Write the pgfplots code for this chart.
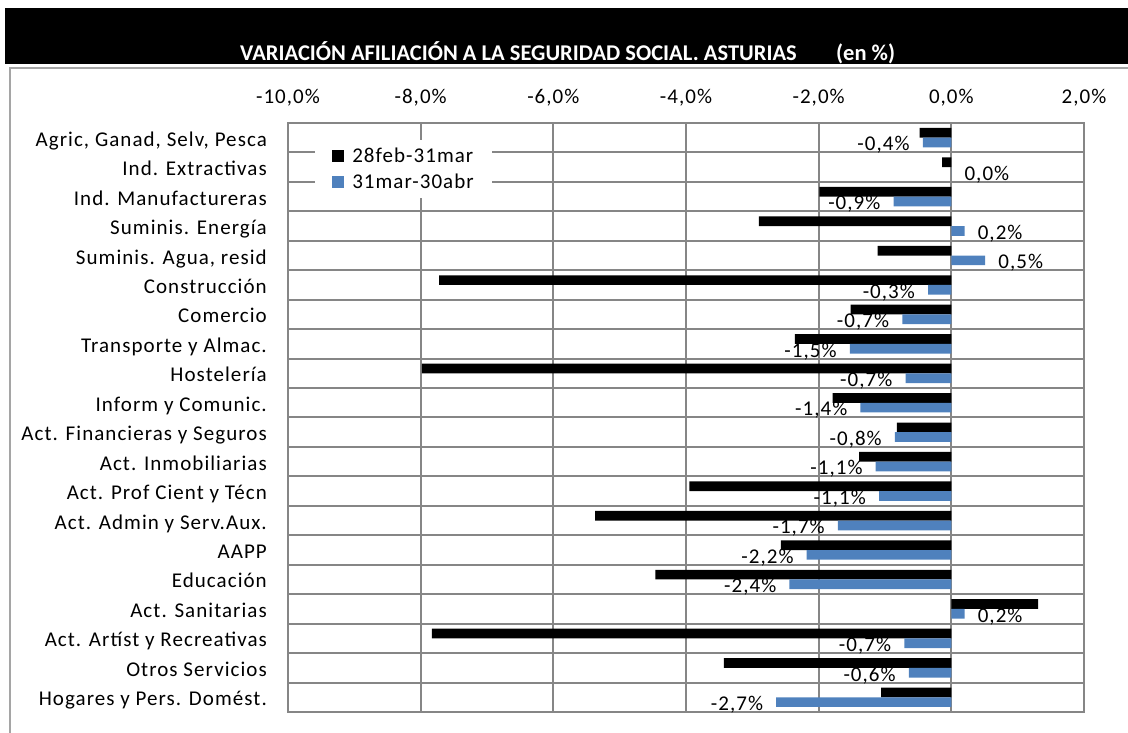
\documentclass[border=0pt]{standalone}
\usepackage{pgfplots}
\pgfplotsset{compat=1.18}
\usepackage{pgfplotstable}
\usepackage{fontspec}
\setmainfont{Carlito}
\newfontfamily\labfont{Carlito}[LetterSpace=5]
\definecolor{gridc}{RGB}{134,134,134}
\definecolor{exblue}{RGB}{79,129,189}
\definecolor{framec}{RGB}{165,165,165}
\newcommand\lf{\labfont\fontsize{21bp}{24bp}\selectfont}
\newcommand\tf{\bfseries\fontsize{22.5bp}{26bp}\selectfont}
\pgfplotsset{sqlegend/.style={legend image code/.code={\fill[##1] (0bp,-6bp) rectangle (12bp,6bp); \path (19bp,0bp);}}}

\pgfplotstableread{
idx black blue
0 -0.48 -0.43
1 -0.14 0.00
2 -1.99 -0.87
3 -2.90 0.20
4 -1.11 0.51
5 -7.72 -0.35
6 -1.52 -0.74
7 -2.36 -1.53
8 -7.98 -0.69
9 -1.79 -1.37
10 -0.82 -0.85
11 -1.39 -1.14
12 -3.95 -1.09
13 -5.37 -1.71
14 -2.57 -2.18
15 -4.46 -2.44
16 1.31 0.20
17 -7.83 -0.71
18 -3.43 -0.64
19 -1.06 -2.64
}\datatable

% labels of the blue series: negative values (set left of the bar end)
\pgfplotstableread{
idx blue lab
0 -0.43 -0,4\%
2 -0.87 -0,9\%
5 -0.35 -0,3\%
6 -0.74 -0,7\%
7 -1.53 -1,5\%
8 -0.69 -0,7\%
9 -1.37 -1,4\%
10 -0.85 -0,8\%
11 -1.14 -1,1\%
12 -1.09 -1,1\%
13 -1.71 -1,7\%
14 -2.18 -2,2\%
15 -2.44 -2,4\%
17 -0.71 -0,7\%
18 -0.64 -0,6\%
19 -2.64 -2,7\%
}\neglabels

% labels of the blue series: zero and positive values (set right of the bar end)
\pgfplotstableread{
idx blue lab
1 0.00 0,0\%
3 0.20 0,2\%
4 0.51 0,5\%
16 0.20 0,2\%
}\poslabels

\begin{document}
\begin{tikzpicture}[x=1bp,y=1bp]
\path[use as bounding box] (0,0) rectangle (1128,733);
\fill[black] (5,669) rectangle (1128,725);
\node[anchor=base west, text=white, inner sep=0pt, font=\tf] at (240,672) {VARIACIÓN AFILIACIÓN A LA SEGURIDAD SOCIAL. ASTURIAS};
\node[anchor=base west, text=white, inner sep=0pt, font=\tf] at (836,672) {(en \%)};
\draw[framec, line width=2bp] (10,0) -- (10,665) -- (1128,665);
\begin{axis}[
  at={(288bp,21bp)}, anchor=south west,
  scale only axis, width=796bp, height=589bp,
  xbar, bar width=0.33,
  sqlegend,
  xmin=-10, xmax=2,
  ymin=-0.5, ymax=19.5,
  y dir=reverse,
  enlargelimits=false,
  clip=false,
  xtick={-10,-8,-6,-4,-2,0,2},
  xticklabels={{-10,0\%},{-8,0\%},{-6,0\%},{-4,0\%},{-2,0\%},{0,0\%},{2,0\%}},
  xticklabel pos=upper,
  xticklabel style={font=\lf, anchor=base, inner sep=0pt, yshift=19bp},
  ytick={0,...,19},
  yticklabels={{Agric, Ganad, Selv, Pesca},{Ind. Extractivas},{Ind. Manufactureras},{Suminis. Energía},{Suminis. Agua, resid},{Construcción},{Comercio},{Transporte y Almac.},{Hostelería},{Inform y Comunic.},{Act. Financieras y Seguros},{Act. Inmobiliarias},{Act. Prof Cient y Técn},{Act. Admin y Serv.Aux.},{AAPP},{Educación},{Act. Sanitarias},{Act. Artíst y Recreativas\ },{Otros Servicios},{Hogares y Pers. Domést.}},
  yticklabel style={font=\lf, anchor=base east, inner sep=0pt, xshift=-21bp, yshift=-8.5bp},
  minor ytick={0.5,1.5,...,18.5},
  yminorgrids, xmajorgrids,
  major tick length=0pt, minor tick length=0pt,
  tick style={draw=none},
  axis line style={gridc, line width=2bp},
  major grid style={gridc, line width=2bp},
  minor grid style={gridc, line width=2bp},
  legend style={at={(0.034,0.971)}, anchor=north west, draw=none, fill=white, font=\lf,
    inner xsep=17bp, inner ysep=7bp, row sep=8bp,
    nodes={inner sep=1bp}},
  legend cell align=left,
]
\addplot[fill=black, draw=none, bar shift=-0.165]
  table[x=black, y=idx] {\datatable};
\addlegendentry{28feb-31mar}
\addplot[fill=exblue, draw=none, bar shift=0.165]
  table[x=blue, y=idx] {\datatable};
\addlegendentry{31mar-30abr}
\addplot[draw=none, fill=none, bar shift=0.165, forget plot,
  nodes near coords, point meta=explicit symbolic,
  every node near coord/.append style={anchor=east, font=\lf, text=black, inner xsep=13bp, inner ysep=0pt, yshift=-2.5bp}]
  table[x=blue, y=idx, meta=lab] {\neglabels};
\addplot[draw=none, fill=none, bar shift=0.165, forget plot,
  nodes near coords, point meta=explicit symbolic,
  every node near coord/.append style={anchor=west, font=\lf, text=black, inner xsep=13bp, inner ysep=0pt, yshift=-2.5bp}]
  table[x=blue, y=idx, meta=lab] {\poslabels};
\end{axis}
\end{tikzpicture}
\end{document}
